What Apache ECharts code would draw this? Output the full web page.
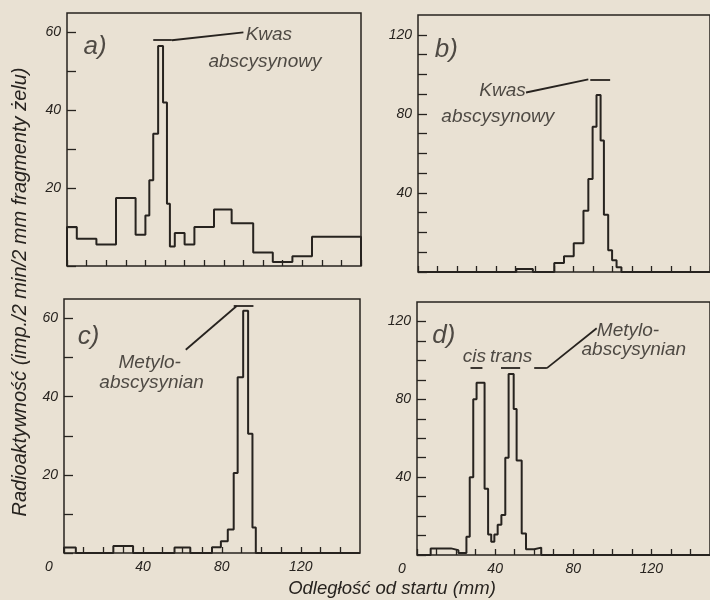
<!DOCTYPE html>
<html><head><meta charset="utf-8">
<script src="https://cdn.jsdelivr.net/npm/echarts/dist/echarts.min.js"></script>
<style>html,body{margin:0;padding:0;background:#e9e1d3}#c{width:710px;height:600px}</style>
</head><body><div id="c"></div><script>
// ---- data (bin edges in mm, counts per bin) ----
var edgesA = [0,5,15,25,35,40,42,44,46.5,49,51,52.5,55,60,65,75,84,95,105,115,125,150];
var valuesA = [10,7,5.5,17.5,8,13,22,34,56.5,42,16,5,8.5,5.5,10,14.5,11,3.5,1,2.5,7.5];
var edgesB = [0,50.5,59,70,75,80,85,87.5,89.7,91.7,93.8,95.5,97.7,99.7,102,104.5,150];
var valuesB = [0,1.5,0,4.5,8,14.6,31,47,73.5,89.5,66.5,29,11,6,2.4,0];
var edgesC = [0,6,25,35,56,64,75,79.5,83,86,88,90.8,93.3,95.5,97.2,150];
var valuesC = [1.4,0,1.8,0,1.4,0,1.5,3,6,20.5,45,62,30.5,6.5,0];
var edgesD = [0,7,17.4,21.2,25.3,27,28.8,30.5,34.6,36.4,38,39.6,41.3,43.2,45.2,46.9,49.5,51,53.6,55.8,60,63.6,150];
var valuesD = [0,3.4,2.5,1,9.4,40,80,88.5,34,10.5,6.8,10.5,15.5,20.5,50,93,75,48.5,11,3,3.8,0];

var xTickLabels = [0,40,80,120];
var yTickLabelsSmall = [20,40,60];
var yTickLabelsLarge = [40,80,120];

// annotation texts [x(mm), y(value), text, kind]
var textsA = [[14.3,56.3,'a)','p'],[103,59.5,'Kwas','t'],[101,52.5,'abscysynowy','t']];
var textsB = [[14.6,112.5,'b)','p'],[43.4,91.5,'Kwas','t'],[41,78.5,'abscysynowy','t']];
var textsC = [[12.4,55.3,'c)','p'],[43.4,48.7,'Metylo-','t'],[44.4,43.6,'abscysynian','t']];
var textsD = [[13.7,112.9,'d)','p'],[29.4,102,'cis','t'],[48.2,102,'trans','t'],[108,115.4,'Metylo-','t'],[111,105.5,'abscysynian','t']];
// annotation segments [[x1,y1],[x2,y2]]
var segsA = [[[44,58],[53.5,58]],[[53.5,58],[90,60]]];
var segsB = [[[88.5,97.4],[98.7,97.4]],[[55.5,90.8],[87.5,97.4]]];
var segsC = [[[86,63.2],[96,63.2]],[[61.7,52],[87.5,63.2]]];
var segsD = [[[27.4,96],[33.5,96]],[[43,96],[52.8,96]],[[60,96],[66.5,96]],[[66.5,96],[92,116.5]]];

var INK = '#27231f';
var FONT = '"Liberation Sans", "DejaVu Sans", sans-serif';

function hist(edges, values){
  var d = [[edges[0],0]];
  for (var i=0;i<values.length;i++) d.push([edges[i],values[i]]);
  var n = edges.length-1;
  d.push([edges[n],values[n-1]]);
  d.push([edges[n],0]);
  return d;
}

var grids = [
  {left:67, top:13, width:294, height:253},
  {left:418, top:15, width:296, height:257},
  {left:64, top:299, width:296, height:254},
  {left:417, top:302, width:296, height:253}
];
grids.forEach(function(g){ g.show=true; g.borderColor=INK; g.borderWidth=1.5; g.backgroundColor='transparent'; });

function xAxis(i, showLabels){
  return {type:'value', gridIndex:i, min:0, max:150, interval:10,
    axisLine:{show:false}, splitLine:{show:false},
    axisTick:{show:true, inside:true, length:6, lineStyle:{color:INK, width:1.3}},
    axisLabel:{show:showLabels, margin:7, color:INK, fontSize:14, fontStyle:'italic', fontFamily:FONT,
      showMaxLabel:false,
      formatter:function(v){ if (xTickLabels.indexOf(v)<0) return ''; return v===0 ? '{z|0}' : String(v); },
      rich:{z:{padding:[0,30,0,0], color:INK, fontSize:14, fontStyle:'italic', fontFamily:FONT}}}
  };
}
function yAxis(i, max, labels){
  return {type:'value', gridIndex:i, min:0, max:max, interval:10,
    axisLine:{show:false}, splitLine:{show:false},
    axisTick:{show:true, inside:true, length:9, lineStyle:{color:INK, width:1.3}},
    axisLabel:{margin:6, color:INK, fontSize:14, fontStyle:'italic', fontFamily:FONT, showMaxLabel:false,
      formatter:function(v){ return labels.indexOf(v)<0 ? '' : String(v); }}
  };
}

function histSeries(i, edges, values, segs){
  return {type:'line', xAxisIndex:i, yAxisIndex:i, step:'end', data:hist(edges, values),
    showSymbol:false, symbol:'none', silent:true, animation:false,
    lineStyle:{color:INK, width:2},
    markLine:{silent:true, symbol:['none','none'], animation:false, label:{show:false},
      lineStyle:{color:INK, width:1.8, type:'solid'},
      data:segs.map(function(s){ return [{coord:s[0]},{coord:s[1]}]; })}
  };
}
function textSeries(i, texts){
  return {type:'scatter', xAxisIndex:i, yAxisIndex:i, symbolSize:0, silent:true, animation:false,
    data:texts.map(function(t){ return {value:[t[0],t[1]], name:t[2],
      label:{fontSize: t[3]==='p' ? 26 : 19}}; }),
    label:{show:true, position:'inside', align:'center', verticalAlign:'middle',
      color:INK, fontStyle:'italic', fontFamily:FONT,
      formatter:function(p){ return p.name; }}
  };
}

var option = {
  backgroundColor:'#e9e1d3',
  animation:false,
  grid:grids,
  xAxis:[xAxis(0,false), xAxis(1,false), xAxis(2,true), xAxis(3,true)],
  yAxis:[yAxis(0,65,yTickLabelsSmall), yAxis(1,130,yTickLabelsLarge), yAxis(2,65,yTickLabelsSmall), yAxis(3,130,yTickLabelsLarge)],
  series:[
    histSeries(0, edgesA, valuesA, segsA),
    histSeries(1, edgesB, valuesB, segsB),
    histSeries(2, edgesC, valuesC, segsC),
    histSeries(3, edgesD, valuesD, segsD),
    textSeries(0, textsA), textSeries(1, textsB), textSeries(2, textsC), textSeries(3, textsD)
  ],
  graphic:[
    {type:'text', x:20, y:292, rotation:Math.PI/2,
      style:{text:'Radioaktywność (imp./2 min/2 mm fragmenty żelu)', fill:INK,
        font:'italic 20px ' + FONT, textAlign:'center', textVerticalAlign:'middle'}},
    {type:'text', x:392, y:589,
      style:{text:'Odległość od startu (mm)', fill:INK,
        font:'italic 18.5px ' + FONT, textAlign:'center', textVerticalAlign:'middle'}}
  ]
};
var chart = echarts.init(document.getElementById('c'), null, {renderer:'canvas'});
chart.setOption(option);
</script></body></html>
